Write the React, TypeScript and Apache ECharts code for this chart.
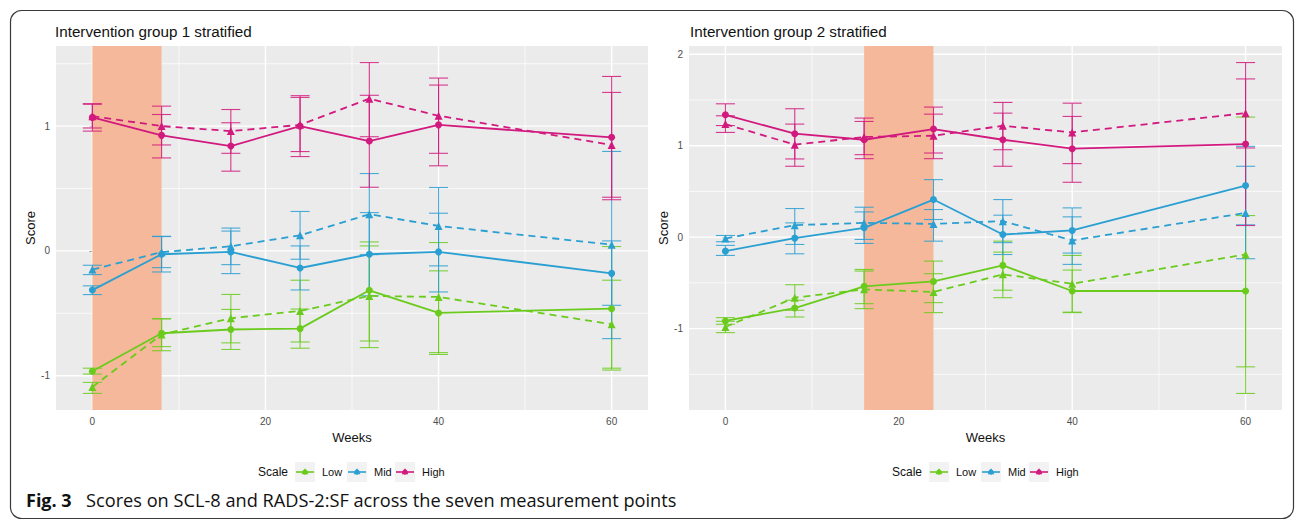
import React, { useEffect, useRef } from "react";
import * as echarts from "echarts";

// ---------- data ----------
const weeks = [0, 8, 16, 24, 32, 40, 60];
const scaleNames = ["Low", "Mid", "High"];
const scaleColors = ["#6acb1c", "#2a9fd2", "#d2197e"];
const xTickLabels = [0, 20, 40, 60];
const y1TickLabels = [-1, 0, 1];
const y2TickLabels = [-1, 0, 1, 2];
const shade1 = [0, 8];
const shade2 = [16, 24];
const panelTitles = ["Intervention group 1 stratified", "Intervention group 2 stratified"];

// Intervention group 1 — solid (circle) and dashed (triangle)
const g1LowSolidMean = [-0.965, -0.66, -0.63, -0.623, -0.316, -0.497, -0.463];
const g1LowSolidLo = [-0.987, -0.767, -0.79, -0.78, -0.722, -0.83, -0.955];
const g1LowSolidHi = [-0.94, -0.544, -0.469, -0.466, 0.072, -0.16, 0.035];
const g1LowDashMean = [-1.09, -0.67, -0.54, -0.481, -0.361, -0.369, -0.588];
const g1LowDashLo = [-1.142, -0.8, -0.737, -0.73, -0.775, -0.815, -0.94];
const g1LowDashHi = [-1.054, -0.544, -0.349, -0.235, 0.04, 0.067, -0.235];

const g1MidSolidMean = [-0.314, -0.027, -0.008, -0.137, -0.027, -0.008, -0.18];
const g1MidSolidLo = [-0.35, -0.169, -0.182, -0.313, -0.36, -0.329, -0.436];
const g1MidSolidHi = [-0.28, 0.117, 0.159, 0.04, 0.307, 0.302, 0.08];
const g1MidDashMean = [-0.15, -0.01, 0.037, 0.125, 0.294, 0.2, 0.05];
const g1MidDashLo = [-0.19, -0.134, -0.11, -0.067, -0.03, -0.12, -0.703];
const g1MidDashHi = [-0.115, 0.115, 0.183, 0.316, 0.62, 0.508, 0.797];

const g1HighSolidMean = [1.07, 0.926, 0.84, 1.0, 0.88, 1.01, 0.91];
const g1HighSolidLo = [0.96, 0.745, 0.639, 0.756, 0.51, 0.682, 0.41];
const g1HighSolidHi = [1.18, 1.093, 1.027, 1.244, 1.247, 1.329, 1.398];
const g1HighDashMean = [1.08, 1.0, 0.96, 1.01, 1.22, 1.083, 0.849];
const g1HighDashLo = [0.985, 0.849, 0.782, 0.796, 0.915, 0.782, 0.43];
const g1HighDashHi = [1.175, 1.16, 1.133, 1.23, 1.509, 1.385, 1.27];

// Intervention group 2
const g2LowSolidMean = [-0.916, -0.775, -0.538, -0.484, -0.309, -0.589, -0.589];
const g2LowSolidLo = [-0.953, -0.873, -0.727, -0.716, -0.58, -0.825, -1.418];
const g2LowSolidHi = [-0.88, -0.69, -0.353, -0.262, -0.044, -0.36, 0.236];
const g2LowDashMean = [-0.982, -0.662, -0.571, -0.6, -0.407, -0.509, -0.189];
const g2LowDashLo = [-1.044, -0.8, -0.782, -0.825, -0.662, -0.82, -1.709];
const g2LowDashHi = [-0.92, -0.52, -0.371, -0.4, -0.164, -0.2, 1.313];

const g2MidSolidMean = [-0.153, -0.011, 0.102, 0.411, 0.029, 0.073, 0.564];
const g2MidSolidLo = [-0.2, -0.182, -0.069, 0.193, -0.19, -0.174, 0.135];
const g2MidSolidHi = [-0.09, 0.156, 0.276, 0.629, 0.24, 0.32, 0.993];
const g2MidDashMean = [-0.015, 0.131, 0.156, 0.145, 0.175, -0.036, 0.265];
const g2MidDashLo = [-0.05, -0.08, -0.025, -0.044, -0.06, -0.298, -0.236];
const g2MidDashHi = [0.018, 0.313, 0.327, 0.302, 0.411, 0.222, 0.775];

const g2HighSolidMean = [1.338, 1.131, 1.065, 1.182, 1.065, 0.967, 1.018];
const g2HighSolidLo = [1.22, 0.855, 0.858, 0.92, 0.775, 0.6, 0.127];
const g2HighSolidHi = [1.458, 1.404, 1.265, 1.422, 1.356, 1.32, 1.909];
const g2HighDashMean = [1.236, 1.011, 1.095, 1.109, 1.218, 1.145, 1.356];
const g2HighDashLo = [1.145, 0.775, 0.902, 0.858, 0.956, 0.804, 0.975];
const g2HighDashHi = [1.327, 1.236, 1.302, 1.345, 1.473, 1.465, 1.73];

const captionBold = "Fig. 3";
const captionText = "Scores on SCL-8 and RADS-2:SF across the seven measurement points";

// ---------- layout ----------
const FONT = "'Liberation Sans', Arial, sans-serif";
const grids = [
  { left: 56, top: 46, width: 592, height: 364 },
  { left: 689, top: 46, width: 593, height: 364 },
];
const xRange = [-4.2, 64.2];
const yRanges = [
  [-1.275, 1.642],
  [-1.89, 2.09],
];
const capHalf = 1.1;

type Group = { solid: number[][]; dash: number[][] };
const panels: Group[][] = [
  [
    { solid: [g1LowSolidMean, g1LowSolidLo, g1LowSolidHi], dash: [g1LowDashMean, g1LowDashLo, g1LowDashHi] },
    { solid: [g1MidSolidMean, g1MidSolidLo, g1MidSolidHi], dash: [g1MidDashMean, g1MidDashLo, g1MidDashHi] },
    { solid: [g1HighSolidMean, g1HighSolidLo, g1HighSolidHi], dash: [g1HighDashMean, g1HighDashLo, g1HighDashHi] },
  ],
  [
    { solid: [g2LowSolidMean, g2LowSolidLo, g2LowSolidHi], dash: [g2LowDashMean, g2LowDashLo, g2LowDashHi] },
    { solid: [g2MidSolidMean, g2MidSolidLo, g2MidSolidHi], dash: [g2MidDashMean, g2MidDashLo, g2MidDashHi] },
    { solid: [g2HighSolidMean, g2HighSolidLo, g2HighSolidHi], dash: [g2HighDashMean, g2HighDashLo, g2HighDashHi] },
  ],
];

function bgRender(shade: number[], yMajor: number[], yMinor: number[]) {
  const xMajor = [0, 20, 40, 60];
  const xMinor = [10, 30, 50];
  return (params: any, api: any) => {
    const cs = params.coordSys;
    const children: any[] = [];
    const hline = (v: number, w: number) => {
      const p = api.coord([0, v]);
      children.push({
        type: "line",
        shape: { x1: cs.x, y1: p[1], x2: cs.x + cs.width, y2: p[1] },
        style: { stroke: "#ffffff", lineWidth: w },
      });
    };
    const vline = (v: number, w: number) => {
      const p = api.coord([v, 0]);
      children.push({
        type: "line",
        shape: { x1: p[0], y1: cs.y, x2: p[0], y2: cs.y + cs.height },
        style: { stroke: "#ffffff", lineWidth: w },
      });
    };
    yMinor.forEach((v) => hline(v, 0.7));
    xMinor.forEach((v) => vline(v, 0.7));
    yMajor.forEach((v) => hline(v, 1.4));
    xMajor.forEach((v) => vline(v, 1.4));
    const a = api.coord([shade[0], 0]);
    const b = api.coord([shade[1], 0]);
    children.push({
      type: "rect",
      shape: { x: a[0], y: cs.y, width: b[0] - a[0], height: cs.height },
      style: { fill: "#f5b89b" },
    });
    return { type: "group", children };
  };
}

const errRender = (params: any, api: any) => {
  const x = api.value(0);
  const lo = api.value(1);
  const hi = api.value(2);
  const pLo = api.coord([x, lo]);
  const pHi = api.coord([x, hi]);
  const hw = api.size([capHalf, 0])[0];
  const style = { stroke: api.visual("color"), lineWidth: 1.1, opacity: 0.85 };
  return {
    type: "group",
    children: [
      { type: "line", shape: { x1: pLo[0], y1: pLo[1], x2: pHi[0], y2: pHi[1] }, style },
      { type: "line", shape: { x1: pLo[0] - hw, y1: pLo[1], x2: pLo[0] + hw, y2: pLo[1] }, style },
      { type: "line", shape: { x1: pHi[0] - hw, y1: pHi[1], x2: pHi[0] + hw, y2: pHi[1] }, style },
    ],
  };
};

function legendGraphics(x0: number, y: number) {
  const els: any[] = [];
  els.push({
    type: "text",
    x: x0,
    y,
    style: { text: "Scale", font: `12px ${FONT}`, fill: "#111", verticalAlign: "middle", align: "left" },
  });
  const keyStarts = [x0 + 37, x0 + 89, x0 + 137];
  scaleNames.forEach((n, i) => {
    const kx = keyStarts[i];
    const c = scaleColors[i];
    els.push({ type: "rect", shape: { x: kx, y: y - 10, width: 20, height: 20 }, style: { fill: "#f2f2f2" } });
    els.push({ type: "line", shape: { x1: kx + 1, y1: y, x2: kx + 19, y2: y }, style: { stroke: c, lineWidth: 1.6 } });
    els.push({ type: "circle", shape: { cx: kx + 10, cy: y, r: 2.6 }, style: { fill: c } });
    els.push({
      type: "polygon",
      shape: { points: [[kx + 10, y - 3.8], [kx + 13.4, y + 2.2], [kx + 6.6, y + 2.2]] },
      style: { fill: c },
    });
    els.push({
      type: "text",
      x: kx + 27,
      y,
      style: { text: n, font: `11px ${FONT}`, fill: "#111", verticalAlign: "middle", align: "left" },
    });
  });
  return els;
}

export default function App() {
  const ref = useRef<HTMLDivElement>(null);
  useEffect(() => {
    document.body.style.margin = "0";
    const chart = echarts.init(ref.current!, null, { renderer: "svg" });
    const series: any[] = [];
    const yMajors = [y1TickLabels, y2TickLabels];
    const yMinors = [[-0.5, 0.5, 1.5], [-1.5, -0.5, 0.5, 1.5]];
    const shades = [shade1, shade2];
    [0, 1].forEach((pi) => {
      series.push({
        type: "custom",
        xAxisIndex: pi,
        yAxisIndex: pi,
        silent: true,
        z: 1,
        clip: false,
        data: [[0, 0]],
        renderItem: bgRender(shades[pi], yMajors[pi], yMinors[pi]),
      });
      panels[pi].forEach((grp, si) => {
        const color = scaleColors[si];
        (["solid", "dash"] as const).forEach((kind) => {
          const [mean, lo, hi] = grp[kind];
          series.push({
            type: "custom",
            name: scaleNames[si],
            xAxisIndex: pi,
            yAxisIndex: pi,
            silent: true,
            z: 3,
            itemStyle: { color },
            encode: { x: 0, y: [1, 2] },
            data: weeks.map((w, i) => [w, lo[i], hi[i]]),
            renderItem: errRender,
          });
          series.push({
            type: "line",
            name: scaleNames[si],
            xAxisIndex: pi,
            yAxisIndex: pi,
            z: 4,
            symbol: kind === "solid" ? "circle" : "triangle",
            symbolSize: kind === "solid" ? 7 : 8,
            itemStyle: { color },
            lineStyle: { color, width: 1.8, type: kind === "solid" ? "solid" : [7, 5] },
            data: weeks.map((w, i) => [w, mean[i]]),
          });
        });
      });
    });

    const mkX = (i: number) => ({
      type: "value",
      gridIndex: i,
      min: xRange[0],
      max: xRange[1],
      name: "Weeks",
      nameLocation: "middle",
      nameGap: 20,
      nameTextStyle: { fontFamily: FONT, fontSize: 13, color: "#111" },
      axisLine: { show: false },
      axisTick: { show: true, length: 3, customValues: xTickLabels, lineStyle: { color: "#333" } },
      axisLabel: { customValues: xTickLabels, color: "#4d4d4d", fontFamily: FONT, fontSize: 10, margin: 6 },
      splitLine: { show: false },
    });
    const mkY = (i: number) => ({
      type: "value",
      gridIndex: i,
      min: yRanges[i][0],
      max: yRanges[i][1],
      name: "Score",
      nameLocation: "middle",
      nameRotate: 90,
      nameGap: 17,
      nameTextStyle: { fontFamily: FONT, fontSize: 13, color: "#111" },
      axisLine: { show: false },
      axisTick: { show: true, length: 3, customValues: yMajors[i], lineStyle: { color: "#333" } },
      axisLabel: { customValues: yMajors[i], color: "#4d4d4d", fontFamily: FONT, fontSize: 10, margin: 6 },
      splitLine: { show: false },
    });

    chart.setOption({
      animation: false,
      backgroundColor: "#ffffff",
      title: [
        { text: panelTitles[0], left: 55, top: 24, padding: 0, textStyle: { fontFamily: FONT, fontSize: 15.2, fontWeight: "normal", color: "#111" } },
        { text: panelTitles[1], left: 690, top: 24, padding: 0, textStyle: { fontFamily: FONT, fontSize: 15.2, fontWeight: "normal", color: "#111" } },
      ],
      grid: grids.map((g) => ({ ...g, show: true, backgroundColor: "#ebebeb", borderWidth: 0 })),
      xAxis: [mkX(0), mkX(1)],
      yAxis: [mkY(0), mkY(1)],
      series,
      graphic: [
        {
          type: "rect",
          silent: true,
          shape: { x: 10.5, y: 10.5, width: 1283, height: 508, r: 11 },
          style: { fill: "none", stroke: "#3a3a3a", lineWidth: 1.2 },
          z: 100,
        },
        ...legendGraphics(258, 472),
        ...legendGraphics(892, 472),
        {
          type: "text",
          x: 26,
          y: 500,
          style: { text: captionBold, font: `bold 18px 'Open Sans', sans-serif`, fill: "#111", verticalAlign: "middle" },
        },
        {
          type: "text",
          x: 86,
          y: 500,
          style: { text: captionText, font: `18.2px 'Open Sans', sans-serif`, fill: "#111", verticalAlign: "middle" },
        },
      ],
    });
    return () => chart.dispose();
  }, []);
  return <div ref={ref} style={{ position: "fixed", left: 0, top: 0, width: 1295, height: 520 }} />;
}
